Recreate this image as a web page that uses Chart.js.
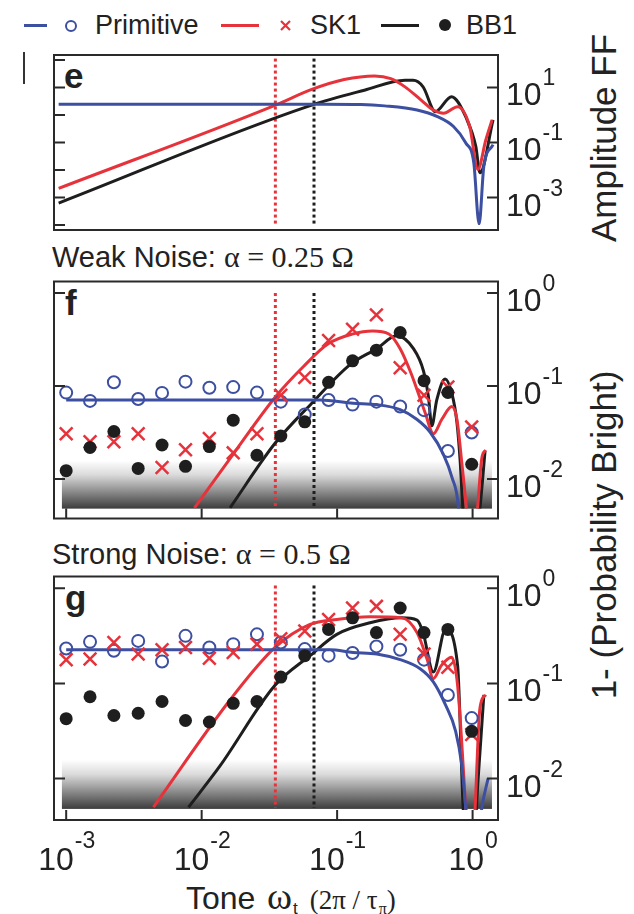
<!DOCTYPE html>
<html lang="en">
<head>
<meta charset="UTF-8" />
<title>Tone response: Primitive, SK1, BB1</title>
<script src="https://cdn.jsdelivr.net/npm/chart.js"></script>
<style>
  body { margin: 0; background: #fff; color: #222; font-family: "Liberation Sans", Arial, sans-serif; }
  #page { position: relative; width: 634px; height: 914px; overflow: hidden; }
  canvas { position: absolute; left: 0; }
  .txt { position: absolute; white-space: nowrap; }
  .leg { font-size: 27px; line-height: 27px; top: 12px; }
  .serif { font-family: "Liberation Serif", "Times New Roman", serif; }
  .head { font-size: 29px; line-height: 29px; }
  .head .serif { font-size: 30px; }
  .panel { font-size: 35px; line-height: 35px; font-weight: bold; }
  .vt { position: absolute; white-space: nowrap; font-size: 35px; line-height: 35px; transform: translate(-50%, -50%) rotate(-90deg); }
  .dash { position: absolute; top: 24px; height: 3px; }
  .ring { position: absolute; top: 19.5px; width: 12px; height: 12px; box-sizing: border-box; border: 2px solid #3d4fa1; border-radius: 50%; }
  .dot { position: absolute; top: 19px; width: 12px; height: 12px; border-radius: 50%; background: #1e1e1e; }
  #xtitle { left: 186px; top: 880px; font-size: 32px; line-height: 32px; }
  #xtitle .om { font-size: 38px; margin-left: 2px; }
  #xtitle .sub { font-size: 17px; position: relative; top: 5px; margin-left: 1px; }
  #xtitle .small { font-size: 27px; margin-left: 12px; }
  #xtitle .small .sub { font-size: 16px; top: 5px; }
</style>
</head>
<body>
<div id="page">
  <div id="legend"></div>
  <div class="txt" style="left:23px;top:52px;width:2px;height:32px;background:#333"></div>

  <div class="txt panel" style="left:64px;top:58px">e</div>
  <div class="txt head" style="left:52px;top:242px">Weak Noise: <span class="serif">&alpha; = 0.25 &Omega;</span></div>
  <div class="txt panel" style="left:65px;top:285px">f</div>
  <div class="txt head" style="left:52px;top:539px">Strong Noise: <span class="serif">&alpha; = 0.5 &Omega;</span></div>
  <div class="txt panel" style="left:65px;top:580px">g</div>

  <div class="vt" style="left:603px;top:138px">Amplitude FF</div>
  <div class="vt" style="left:603px;top:535px">1- (Probability Bright)</div>
  <div class="txt" id="xtitle">Tone<span class="serif om"> &omega;</span><span class="sub">t</span><span class="serif small">(2&pi; / &tau;<span class="sub">&pi;</span>)</span></div>

  <canvas id="cE" width="634" height="200" style="top:40px"></canvas>
  <canvas id="cF" width="634" height="260" style="top:270px"></canvas>
  <canvas id="cG" width="634" height="330" style="top:565px"></canvas>
</div>

<script>
// series names and colours
const seriesNames = ['Primitive', 'SK1', 'BB1'];
const blue = '#3d4fa1', red = '#e6333b', black = '#1e1e1e';

// tone frequencies of the measured points (same for f and g)
const toneX = [0.001, 0.0015, 0.00225, 0.0034, 0.0051, 0.0076, 0.0114, 0.0171, 0.0256,
               0.0384, 0.0577, 0.0865, 0.13, 0.195, 0.292, 0.438, 0.657, 0.985];

// axis ticks
const xTicks = [0.001, 0.01, 0.1, 1];
const eTicks = [100, 10, 1, 0.1, 0.01, 0.001, 0.0001];
const eLabels = [10, 0.1, 0.001];
const pTicks = [1, 0.1, 0.01];

// dotted markers for the SK1 / BB1 crossing tones
const sk1Line = 0.035;
const bb1Line = 0.0675;

// panel e: amplitude filter function
const eBlueX = [0.00088, 0.08, 0.15, 0.2245, 0.389, 0.55, 0.723, 0.889, 1.02, 1.117, 1.211, 1.416];
const eBlueY = [2.45, 2.45, 2.4, 2.14, 1.51, 0.87, 0.38, 0.098, 0.0186, 0.00011, 0.0138, 0.083];
const eRedX = [0.00088, 0.0351, 0.065, 0.1127, 0.189, 0.249, 0.317, 0.417, 0.513, 0.61, 0.775, 0.952, 1.094, 1.253, 1.392];
const eRedY = [0.00214, 2.29, 8.51, 19.5, 26.3, 20.9, 10.5, 3.47, 1.51, 1.15, 2.0, 0.38, 0.0105, 0.126, 0.66];
const eBlackX = [0.00088, 0.065, 0.159, 0.317, 0.364, 0.431, 0.531, 0.699, 0.889, 1.056, 1.133, 1.416];
const eBlackY = [0.00063, 2.29, 7.94, 18.2, 18.2, 10.5, 1.32, 4.57, 0.87, 0.072, 0.0079, 0.66];

// panel f: weak noise, theory curves
const fBlueX = [0.001, 0.075, 0.131, 0.196, 0.292, 0.387, 0.485, 0.61, 0.703, 0.787, 0.838];
const fBlueY = [0.0708, 0.0708, 0.0653, 0.0631, 0.0557, 0.0439, 0.032, 0.0183, 0.0105, 0.0049, 0.001];
const fRedX = [0.00885, 0.017, 0.0351, 0.0567, 0.0859, 0.129, 0.183, 0.241, 0.292, 0.346, 0.398, 0.447,
               0.514, 0.593, 0.703, 0.766, 0.834, 0.908, 0.96, 1.076, 1.172, 1.253];
const fRedY = [0.0049, 0.0183, 0.0766, 0.163, 0.284, 0.361, 0.391, 0.363, 0.252, 0.145, 0.0832, 0.0513,
               0.0307, 0.0439, 0.0603, 0.0439, 0.0145, 0.004, 0.001, 0.004, 0.017, 0.0204];
const fBlackX = [0.0162, 0.0348, 0.065, 0.1247, 0.196, 0.275, 0.366, 0.434, 0.472, 0.5, 0.544, 0.627,
                 0.703, 0.766, 0.809, 0.847, 0.975, 1.135, 1.236];
const fBlackY = [0.0049, 0.0242, 0.0653, 0.17, 0.252, 0.347, 0.252, 0.145, 0.0766, 0.0374, 0.0708, 0.119,
                 0.0832, 0.0407, 0.0158, 0.005, 0.001, 0.005, 0.02];
// panel f: measured
const fBluePts = [0.0849, 0.0692, 0.1096, 0.0724, 0.0843, 0.1114, 0.0957, 0.0973, 0.0849,
                  0.0679, 0.0494, 0.0708, 0.0631, 0.0679, 0.0603, 0.055, 0.02, 0.0316];
const fRedPts = [0.0307, 0.0251, 0.0251, 0.0307, 0.0133, 0.0206, 0.0272, 0.0191, 0.0307,
                 0.0794, 0.1233, 0.308, 0.407, 0.582, 0.157, 0.0794, 0.0977, 0.0363];
const fBlackPts = [0.0123, 0.0218, 0.0324, 0.013, 0.0232, 0.0137, 0.0223, 0.0429, 0.018,
                   0.029, 0.0412, 0.1096, 0.1866, 0.2427, 0.376, 0.114, 0.0851, 0.0144];

// panel g: strong noise, theory curves
const gBlueX = [0.001, 0.0887, 0.131, 0.196, 0.292, 0.41, 0.513, 0.631, 0.75, 0.83, 0.889, 0.99, 1.172, 1.3];
const gBlueY = [0.2259, 0.2259, 0.2118, 0.2042, 0.1778, 0.1426, 0.1038, 0.0594, 0.0314, 0.0141, 0.005, 0.00063, 0.005, 0.01];
const gRedX = [0.0044, 0.0162, 0.0348, 0.0631, 0.0995, 0.175, 0.3, 0.389, 0.461, 0.513, 0.589, 0.699,
               0.775, 0.889, 0.975, 1.045, 1.133, 1.253];
const gRedY = [0.005, 0.067, 0.2388, 0.417, 0.47, 0.501, 0.4887, 0.342, 0.1807, 0.1122, 0.1549, 0.1884,
               0.0955, 0.005, 0.00063, 0.005, 0.055, 0.0759];
const gBlackX = [0.008, 0.0137, 0.0348, 0.0631, 0.0995, 0.175, 0.3, 0.389, 0.431, 0.513, 0.631, 0.775,
                 0.851, 0.959, 1.099, 1.211];
const gBlackY = [0.005, 0.01365, 0.0955, 0.1959, 0.3281, 0.4335, 0.4887, 0.4624, 0.342, 0.1318, 0.3698, 0.1549,
                 0.005, 0.00063, 0.01, 0.0759];
// panel g: measured
const gBluePts = [0.2333, 0.2735, 0.2208, 0.2799, 0.1698, 0.3162, 0.2388, 0.2588, 0.3281,
                  0.2692, 0.2296, 0.1959, 0.2089, 0.2449, 0.2259, 0.1778, 0.0755, 0.0432];
const gRedPts = [0.1778, 0.1807, 0.2692, 0.2037, 0.2259, 0.2388, 0.1837, 0.2118, 0.2588,
                 0.2951, 0.3556, 0.4699, 0.6209, 0.6457, 0.3281, 0.2042, 0.1483, 0.029];
const gBlackPts = [0.0426, 0.0724, 0.046, 0.0486, 0.0646, 0.0408, 0.0393, 0.0618, 0.0646,
                   0.1167, 0.1959, 0.3698, 0.4887, 0.342, 0.6209, 0.342, 0.3698, 0.0314];

// legend (html)
const legendItems = [
  { dash: [24, 23], color: blue, mark: 'ring', mx: 65, tx: 95 },
  { dash: [221, 38], color: red, mark: 'cross', mx: 280, tx: 310 },
  { dash: [381, 38], color: black, mark: 'dot', mx: 439, tx: 466 }
];
const legend = document.getElementById('legend');
legendItems.forEach((it, i) => {
  let h = `<div class="dash" style="left:${it.dash[0]}px;width:${it.dash[1]}px;background:${it.color}"></div>`;
  if (it.mark === 'ring') h += `<div class="ring" style="left:${it.mx}px"></div>`;
  if (it.mark === 'dot') h += `<div class="dot" style="left:${it.mx}px"></div>`;
  if (it.mark === 'cross') h += `<svg class="txt" style="left:${it.mx}px;top:20px" width="11" height="11">
      <path d="M1 1 L10 10 M10 1 L1 10" stroke="${it.color}" stroke-width="2.2"/></svg>`;
  h += `<div class="txt leg" style="left:${it.tx}px">${seriesNames[i]}</div>`;
  legend.insertAdjacentHTML('beforeend', h);
});

const pts = (xs, ys) => xs.map((x, i) => ({ x, y: ys[i] }));

function drawPow(ctx, x, base, exp, center, supDrop) {
  const sup = String(exp);
  ctx.font = '32px "Liberation Sans", Arial, sans-serif';
  const w1 = ctx.measureText('10').width;
  ctx.font = '23px "Liberation Sans", Arial, sans-serif';
  const w2 = ctx.measureText(sup).width;
  const left = center ? x - (w1 + w2) / 2 : x;
  ctx.fillText(sup, left + w1 + 1, base - supDrop);
  ctx.font = '32px "Liberation Sans", Arial, sans-serif';
  ctx.fillText('10', left, base);
}

const decor = {
  id: 'decor',
  beforeDatasetsDraw(chart, args, o) {
    if (!o.shade) return;
    const { ctx } = chart, xs = chart.scales.x, ys = chart.scales.y;
    const x0 = xs.getPixelForValue(o.shade.x[0]), x1 = xs.getPixelForValue(o.shade.x[1]);
    const y0 = ys.getPixelForValue(o.shade.y[0]), y1 = ys.getPixelForValue(o.shade.y[1]);
    const g = ctx.createLinearGradient(0, y0, 0, y1);
    g.addColorStop(0, '#ffffff');
    g.addColorStop(0.3, '#dadada');
    g.addColorStop(1, '#3c3c3c');
    ctx.save();
    ctx.fillStyle = g;
    ctx.fillRect(x0, y0, x1 - x0, y1 - y0);
    ctx.restore();
  },
  afterDraw(chart, args, o) {
    const { ctx, chartArea: a } = chart, xs = chart.scales.x, ys = chart.scales.y;
    ctx.save();
    ctx.strokeStyle = '#2a2a2a';
    ctx.lineWidth = 2;
    ctx.strokeRect(a.left, a.top, a.right - a.left, a.bottom - a.top);
    ctx.beginPath();
    o.leftTicks.forEach(v => { const y = ys.getPixelForValue(v); ctx.moveTo(a.left, y); ctx.lineTo(a.left + 11, y); });
    o.rightTicks.forEach(v => { const y = ys.getPixelForValue(v); ctx.moveTo(a.right - 11, y); ctx.lineTo(a.right, y); });
    (o.xTicks || []).forEach(v => { const x = xs.getPixelForValue(v); ctx.moveTo(x, a.bottom); ctx.lineTo(x, a.bottom - 10); });
    ctx.stroke();
    ctx.fillStyle = '#222';
    ctx.textBaseline = 'alphabetic';
    o.rightTicks.forEach(v => {
      drawPow(ctx, a.right + 8, ys.getPixelForValue(v) + 18, Math.round(Math.log10(v)), false, 20);
    });
    if (o.xLabels) {
      o.xTicks.forEach(v => {
        drawPow(ctx, xs.getPixelForValue(v), a.bottom + 50, Math.round(Math.log10(v)), true, 22);
      });
    }
    ctx.restore();
  }
};

function lineSet(label, xs, ys, color, clip) {
  return { label, data: pts(xs, ys), borderColor: color, borderWidth: 3, pointRadius: 0,
           fill: false, cubicInterpolationMode: 'monotone', clip };
}
function dotted(xv, span, color, clip) {
  return { label: 'tone', data: [{ x: xv, y: span[0] }, { x: xv, y: span[1] }], borderColor: color,
           borderWidth: 3, borderDash: [3, 3], pointRadius: 0, fill: false, clip };
}
function markSet(label, ys, style, color, clip) {
  const d = { label, data: pts(toneX, ys), showLine: false, pointStyle: style, clip,
              pointBorderColor: color, pointHoverRadius: 0 };
  if (style === 'circle' && color === blue) Object.assign(d, { pointRadius: 6, pointBorderWidth: 2, pointBackgroundColor: 'rgba(255,255,255,0)' });
  if (style === 'crossRot') Object.assign(d, { pointRadius: 9, pointBorderWidth: 2.5 });
  if (style === 'circle' && color === black) Object.assign(d, { pointRadius: 6.5, pointBorderWidth: 0, pointBackgroundColor: black });
  return d;
}

function makeChart(id, datasets, yMin, yMax, pad, deco) {
  return new Chart(document.getElementById(id), {
    type: 'line',
    data: { datasets },
    options: {
      responsive: false,
      animation: false,
      layout: { padding: pad },
      scales: {
        x: { type: 'logarithmic', min: 8.13e-4, max: 1.54, display: false },
        y: { type: 'logarithmic', position: 'right', min: yMin, max: yMax, display: false }
      },
      plugins: { legend: { display: false }, tooltip: { enabled: false }, decor: deco }
    },
    plugins: [decor]
  });
}

const clipE = { left: 0, top: 0, right: 0, bottom: -5 };
makeChart('cE', [
  lineSet(seriesNames[0], eBlueX, eBlueY, blue, clipE),
  lineSet(seriesNames[1], eRedX, eRedY, red, clipE),
  lineSet(seriesNames[2], eBlackX, eBlackY, black, clipE),
  dotted(sk1Line, [112, 1.1e-4], red, clipE),
  dotted(bb1Line, [112, 1.1e-4], black, clipE)
], 6.6e-5, 151, { left: 54, right: 136, top: 15, bottom: 10 },
  { leftTicks: eTicks, rightTicks: eLabels });

const clipP = { left: 0, top: 0, right: 0, bottom: -10 };
const shadeP = { x: [9.3e-4, 1.39], y: [0.0158, 0.0048] };
makeChart('cF', [
  markSet(seriesNames[2], fBlackPts, 'circle', black, clipP),
  markSet(seriesNames[1], fRedPts, 'crossRot', red, clipP),
  markSet(seriesNames[0], fBluePts, 'circle', blue, clipP),
  lineSet(seriesNames[0], fBlueX, fBlueY, blue, clipP),
  lineSet(seriesNames[1], fRedX, fRedY, red, clipP),
  lineSet(seriesNames[2], fBlackX, fBlackY, black, clipP),
  dotted(sk1Line, [1.0, 0.0048], red, clipP),
  dotted(bb1Line, [1.0, 0.0048], black, clipP)
], 3.76e-3, 1.33, { left: 54, right: 136, top: 7, bottom: 7 },
  { leftTicks: pTicks, rightTicks: pTicks, xTicks: xTicks, shade: shadeP });

makeChart('cG', [
  markSet(seriesNames[2], gBlackPts, 'circle', black, clipP),
  markSet(seriesNames[1], gRedPts, 'crossRot', red, clipP),
  markSet(seriesNames[0], gBluePts, 'circle', blue, clipP),
  lineSet(seriesNames[0], gBlueX, gBlueY, blue, clipP),
  lineSet(seriesNames[1], gRedX, gRedY, red, clipP),
  lineSet(seriesNames[2], gBlackX, gBlackY, black, clipP),
  dotted(sk1Line, [1.07, 0.0049], red, clipP),
  dotted(bb1Line, [1.07, 0.0049], black, clipP)
], 3.67e-3, 1.33, { left: 54, right: 136, top: 8, bottom: 75 },
  { leftTicks: pTicks, rightTicks: pTicks, xTicks: xTicks, xLabels: true, shade: shadeP });
</script>
</body>
</html>
